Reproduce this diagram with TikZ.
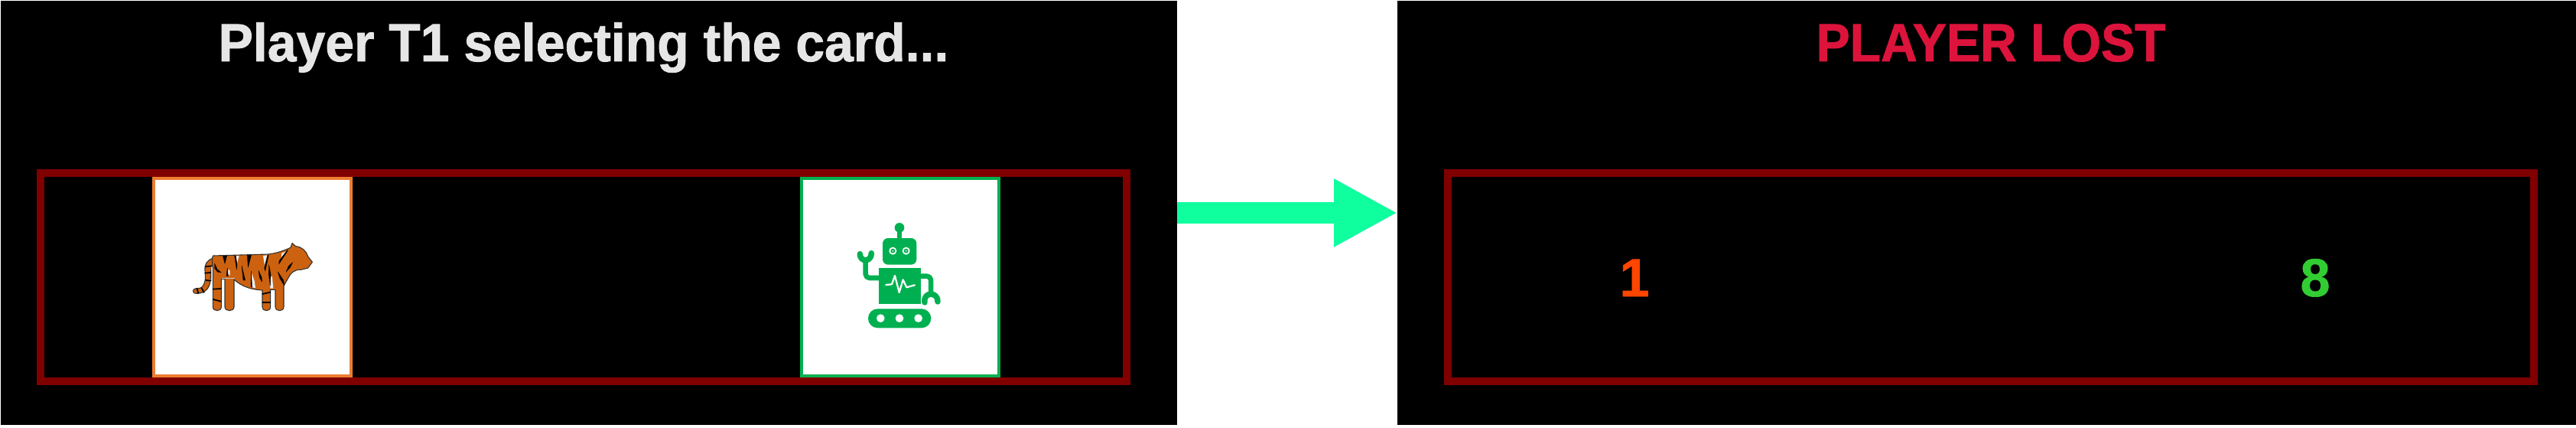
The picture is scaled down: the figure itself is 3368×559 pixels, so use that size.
\documentclass[tikz,border=0pt]{standalone}
\usepackage{fontspec}
\usetikzlibrary{arrows.meta}
\newfontfamily\titlefont[FakeStretch=0.97,FakeBold=1.2]{Liberation Sans}
\newfontfamily\lostfont[FakeStretch=0.945,FakeBold=1.2]{Liberation Sans}
\newfontfamily\digitfont[FakeBold=1]{Liberation Sans}
\definecolor{panelred}{HTML}{800000}
\definecolor{arrowgreen}{HTML}{0FFF9F}
\definecolor{titlegray}{HTML}{E6E6E6}
\definecolor{lostred}{HTML}{DC143C}
\definecolor{oneorange}{HTML}{FF4500}
\definecolor{eightgreen}{HTML}{32CD32}
\definecolor{cardorange}{HTML}{ED7D31}
\definecolor{robotgreen}{HTML}{00B050}
\definecolor{tigerfill}{HTML}{CC620F}
\tikzset{
  panel/.style={fill=black,inner sep=0pt,outer sep=0pt,minimum height=554pt},
  tray/.style={draw=panelred,line width=10pt,inner sep=0pt,outer sep=0pt,minimum width=1420pt,minimum height=272pt},
  card/.style={fill=white,draw=#1,line width=4pt,inner sep=0pt,outer sep=0pt,minimum width=258pt,minimum height=258pt},
  bigtext/.style={font=\fontsize{70}{70}\selectfont\bfseries,anchor=base,inner sep=0pt},
  stripe/.style={fill=black,draw=black,line width=0.3pt,line join=round},
  sliver/.style={fill=white!85!gray,draw=none},
  tigerline/.style={draw=black,line cap=round},
  tigerbody/.style={fill=tigerfill,draw=black!80,line width=1.1pt,line join=round},
  robotline/.style={draw=robotgreen,line cap=round,line join=round},
}
\begin{document}
\begin{tikzpicture}[x=1pt,y=-1pt]
\useasboundingbox (0,0) rectangle (3368,559);
\fill[white] (0,0) rectangle (3368,559);
% panels
\node[panel,minimum width=1538pt] (panelA) at (770,278) {};
\node[panel,minimum width=1541pt] (panelB) at (2597.5,278) {};
% titles
\node[bigtext,text=titlegray] (titleA) at (763,80) {\titlefont\bfseries Player T1 selecting the card...};
\node[bigtext,text=lostred] (titleB) at (2603,80) {\lostfont\bfseries PLAYER LOST};
% trays
\node[tray] (trayA) at (763,362) {};
\node[tray] (trayB) at (2603,362) {};
% cards
\node[card=cardorange] (cardA) at (330,362) {};
\node[card=robotgreen] (cardB) at (1176.5,362) {};
% numbers
\node[bigtext,text=oneorange] (numA) at (2137,387) {\digitfont\bfseries 1};
\node[bigtext,text=eightgreen] (numB) at (3027,387) {\digitfont\bfseries 8};
% arrow
\draw[arrowgreen,line width=28pt,-{Triangle[length=83pt,width=83pt]}] (panelA.east) -- (panelB.west);
% tiger
\begin{scope}[shift={(180,210)},scale=0.33333]
  % tail
  \path[tigerbody]
    (296,382) .. controls (272,388) and (262,405) .. (264,430)
    .. controls (266,460) and (268,480) .. (250,497)
    .. controls (240,502) and (228,498) .. (220,504)
    .. controls (214,512) and (220,521) .. (232,520)
    .. controls (258,520) and (282,505) .. (285,470)
    .. controls (288,440) and (284,410) .. (300,395) -- cycle;
  % body
  \path[tigerbody]
    (296,372) -- (515,366) .. controls (545,362) and (575,352) .. (600,340)
    -- (606,323) -- (620,335) .. controls (645,338) and (660,352) .. (668,375)
    -- (685,397) -- (668,420) -- (640,427) .. controls (615,425) and (600,440) .. (590,460)
    -- (573,490) -- (573,572) .. controls (573,592) and (540,592) .. (540,572)
    -- (540,505) -- (521,505) -- (521,572) .. controls (521,592) and (489,592) .. (489,572)
    -- (489,507) .. controls (450,505) and (410,495) .. (378,465)
    -- (378,572) .. controls (378,592) and (342,592) .. (342,572)
    -- (342,463) -- (328,463) -- (328,572) .. controls (328,592) and (295,592) .. (295,572)
    -- (295,420) .. controls (292,395) and (290,380) .. (296,372) -- cycle;
  % light slivers
  \fill[sliver] (384,372) -- (398,372) -- (390,402) -- cycle;
  \fill[sliver] (492,372) -- (508,370) -- (498,410) -- cycle;
  \fill[sliver] (565,362) -- (582,355) -- (562,392) -- cycle;
  \fill[sliver] (446,438) -- (458,470) -- (462,498) -- (448,496) -- cycle;
  \fill[sliver] (518,450) -- (528,455) -- (532,500) -- (520,500) -- cycle;
  \fill[sliver] (355,425) -- (362,430) -- (362,448) -- (354,448) -- cycle;
  \fill[white!60!gray] (330,458) rectangle (381,463);
  \fill[white!60!gray] (287,408) rectangle (291,470);
  % top stripes
  \path[stripe] (334,373) -- (350,372) -- (342,403) -- cycle;
  \path[stripe] (380,372) -- (385,372) -- (390,410) -- (388,426) -- cycle;
  \path[stripe] (430,370) -- (446,369) -- (433,418) -- cycle;
  \path[stripe] (510,370) -- (514,370) -- (500,432) -- (497,420) -- cycle;
  \path[stripe] (586,351) -- (590,350) -- (554,405) -- (555,392) -- cycle;
  \path[stripe] (608,398) -- (592,412) -- (582,436) -- (598,418) -- cycle;
  % lower stripes
  \path[stripe] (302,402) -- (312,425) -- (328,438) -- (314,436) -- (302,422) -- cycle;
  \path[stripe] (352,420) -- (355,452) -- (348,452) -- cycle;
  \path[stripe] (408,410) -- (422,468) -- (414,468) -- cycle;
  \path[stripe] (445,432) -- (449,496) -- (444,492) -- cycle;
  \path[stripe] (474,430) -- (486,456) -- (488,474) -- (478,458) -- cycle;
  \path[stripe] (515,408) -- (522,445) -- (520,490) -- (514,445) -- cycle;
  \path[stripe] (550,435) -- (572,468) -- (576,490) -- (558,462) -- cycle;
  % leg stripes
  \draw[tigerline,line width=1.8pt] (296,503) -- (327,501);
  \draw[tigerline,line width=1.8pt] (296,543) -- (326,551);
  \draw[tigerline,line width=1.8pt] (490,522) -- (520,515);
  \draw[tigerline,line width=1.8pt] (490,556) -- (520,556);
  % tail stripes
  \draw[tigerline,line width=1.8pt] (266,415) -- (290,412);
  \draw[tigerline,line width=1.8pt] (265,440) -- (286,438);
  \draw[tigerline,line width=1.8pt] (268,468) -- (286,470);
  \draw[tigerline,line width=1.8pt] (250,498) -- (260,516);
  \draw[tigerline,line width=1.8pt] (232,500) -- (238,518);
\end{scope}
% robot
\begin{scope}[shift={(1030,210)},scale=0.33333]
  \fill[robotgreen] (438,262) circle (19);
  \fill[robotgreen] (429,262) rectangle (447,310);
  \fill[robotgreen,rounded corners=7pt] (372,303) rectangle (505,407);
  \fill[white] (412,353) circle (15);
  \fill[robotgreen] (412,353) circle (9);
  \fill[white] (412,353) circle (3);
  \fill[white] (464,353) circle (15);
  \fill[robotgreen] (464,353) circle (9);
  \fill[white] (464,353) circle (3);
  \fill[robotgreen] (356,420) rectangle (522,562);
  \draw[white,line width=2.2pt,line join=round,line cap=round] (385,486) -- (408,484) -- (420,450) -- (437,516) -- (452,466) -- (466,496) -- (498,487);
  \fill[robotgreen,rounded corners=12.4pt] (315,580) rectangle (562,655);
  \fill[white] (364,617) circle (16);
  \fill[white] (438,617) circle (16);
  \fill[white] (512,617) circle (16);
  % left arm and claw
  \draw[robotline,line width=6.5pt,rounded corners=5pt] (360,459) -- (305,459) -- (305,395);
  \draw[robotline,line width=7.5pt] (283,365) .. controls (283,398) and (328,398) .. (328,362);
  % right arm and claw
  \draw[robotline,line width=6.5pt,rounded corners=5pt] (518,452) -- (561,452) -- (561,520);
  \draw[robotline,line width=7.5pt] (537,555) .. controls (530,512) and (590,512) .. (588,552);
\end{scope}
\end{tikzpicture}
\end{document}
